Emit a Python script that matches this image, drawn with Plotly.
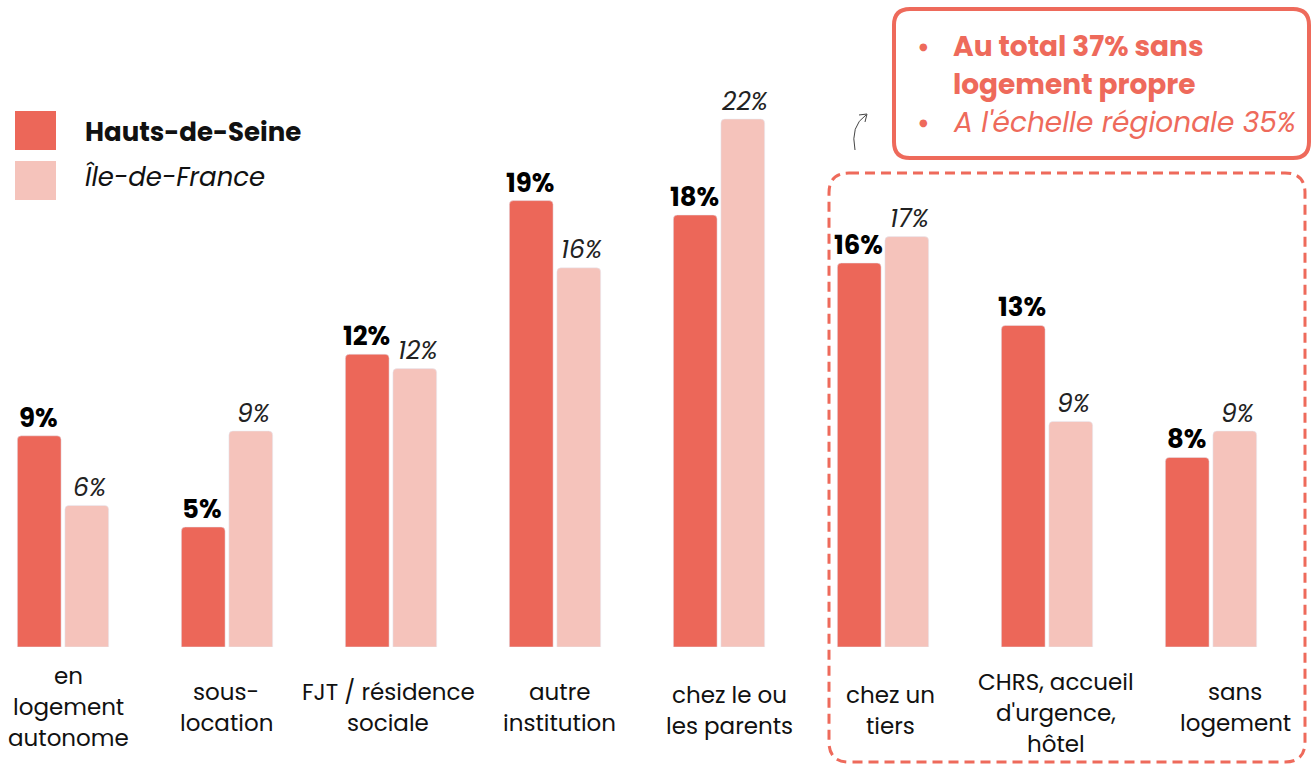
import plotly.graph_objects as go

# --- data ---------------------------------------------------------------
categories = [
    "en logement autonome", "sous-location", "FJT / résidence sociale",
    "autre institution", "chez le ou les parents", "chez un tiers",
    "CHRS, accueil d'urgence, hôtel", "sans logement",
]
tick_labels = [
    ["en", "logement", "autonome"],
    ["sous-", "location"],
    ["FJT / résidence", "sociale"],
    ["autre", "institution"],
    ["chez le ou", "les parents"],
    ["chez un", "tiers"],
    ["CHRS, accueil", "d'urgence,", "hôtel"],
    ["sans", "logement"],
]
hauts_de_seine = [8.8, 5.0, 12.2, 18.6, 18.0, 16.0, 13.4, 7.9]
ile_de_france = [5.9, 9.0, 11.6, 15.8, 22.0, 17.1, 9.4, 9.0]
series_names = ["Hauts-de-Seine", "Île-de-France"]
callout_bold = ["Au total 37% sans", "logement propre"]
callout_italic = "A l'échelle régionale 35%"

# --- style ----------------------------------------------------------------
W, H = 1312, 764
BASE = 647          # pixel row of the baseline
PX_PER_PCT = 24
FONT = "Poppins, Open Sans, sans-serif"
DARK = "#EC6759"
LIGHT = "#F5C3BB"
CORAL = "#EE6A5B"
# labels sit a bit off-centre in the original (px)
label_dx = [5, -1, -3, 4, 10, 7, 9, 24]
label_dy = [0, 0, 0, 0, 3, 3, 6, 0]


def p(x, y):
    # pixel -> paper coords
    return x / W, (BASE - y) / BASE


def rounded_rect(x0, y0, x1, y1, r):
    pts = [
        ("M", [(x0 + r, y0)]), ("L", [(x1 - r, y0)]), ("Q", [(x1, y0), (x1, y0 + r)]),
        ("L", [(x1, y1 - r)]), ("Q", [(x1, y1), (x1 - r, y1)]),
        ("L", [(x0 + r, y1)]), ("Q", [(x0, y1), (x0, y1 - r)]),
        ("L", [(x0, y0 + r)]), ("Q", [(x0, y0), (x0 + r, y0)]),
    ]
    out = ""
    for cmd, coords in pts:
        out += cmd + " ".join("%.5f,%.5f" % p(cx, cy) for cx, cy in coords) + " "
    return out + "Z"


fig = go.Figure()
fig.add_trace(go.Bar(x=categories, y=hauts_de_seine, name=series_names[0], marker_color=DARK))
fig.add_trace(go.Bar(x=categories, y=ile_de_france, name=series_names[1], marker_color=LIGHT))

# value labels above each bar (annotations give finer control of the gap)
for cat, v1, v2 in zip(categories, hauts_de_seine, ile_de_france):
    fig.add_annotation(
        x=cat, y=v1, text="%.0f%%" % v1, showarrow=False,
        xshift=-25, yshift=18, yanchor="middle",
        font=dict(family=FONT, size=26, color="black", weight="bold"),
    )
    fig.add_annotation(
        x=cat, y=v2, text="%.0f%%" % v2, showarrow=False,
        xshift=26, yshift=18, yanchor="middle",
        font=dict(family=FONT, size=25, color="#222", style="italic"),
    )

# category labels below the bars, one annotation per line
for cat, lines, dx, dy in zip(categories, tick_labels, label_dx, label_dy):
    n = len(lines)
    for j, line in enumerate(lines):
        fig.add_annotation(
            x=cat, y=0, xref="x", yref="y", text=line, showarrow=False,
            xshift=dx, yanchor="middle", yshift=-(60 + dy + (j - (n - 1) / 2) * 31),
            font=dict(family=FONT, size=23, color="#111"),
        )

shapes = []
# legend swatches + labels
for i, (name, col) in enumerate(zip(series_names, [DARK, LIGHT])):
    y0 = 111 + i * 50
    x0p, y0p = p(15, y0)
    x1p, y1p = p(56, y0 + 39)
    shapes.append(dict(type="rect", xref="paper", yref="paper", x0=x0p, x1=x1p,
                       y0=y1p, y1=y0p, fillcolor=col, line_width=0))
    lx, ly = p(83, y0 + 21 - i * 5)
    fig.add_annotation(
        x=lx, y=ly, xref="paper", yref="paper", text=name, showarrow=False,
        xanchor="left", yanchor="middle",
        font=dict(family=FONT, size=26, color="#111",
                  weight="bold" if i == 0 else "normal",
                  style="normal" if i == 0 else "italic"),
    )

# callout box and dashed highlight
shapes.append(dict(type="path", xref="paper", yref="paper",
                   path=rounded_rect(894, 9, 1309, 158, 16),
                   line=dict(color=CORAL, width=4)))
shapes.append(dict(type="path", xref="paper", yref="paper",
                   path=rounded_rect(829, 173, 1305, 762, 20),
                   line=dict(color=CORAL, width=3, dash="10px,6px")))

# small curved arrow
shapes.append(dict(type="path", xref="paper", yref="paper",
                   path="M%.5f,%.5f Q%.5f,%.5f %.5f,%.5f" % (p(855, 150) + p(850, 126) + p(866, 115)),
                   line=dict(color="#444", width=1)))
shapes.append(dict(type="path", xref="paper", yref="paper",
                   path="M%.5f,%.5f L%.5f,%.5f L%.5f,%.5f" % (p(859, 115) + p(867, 114) + p(865, 122)),
                   line=dict(color="#444", width=1)))

# callout text
for k, line in enumerate(callout_bold + [callout_italic]):
    ty = 46 + k * 38
    tx, typ = p(951, ty)
    fig.add_annotation(
        x=tx, y=typ, xref="paper", yref="paper", text=line, showarrow=False,
        xanchor="left", yanchor="middle",
        font=dict(family=FONT, size=28, color=CORAL,
                  weight="bold" if k < 2 else "normal",
                  style="italic" if k == 2 else "normal"),
    )
    if k != 1:
        bx, by = p(923, ty)
        fig.add_annotation(
            x=bx, y=by, xref="paper", yref="paper", text="●", showarrow=False,
            xanchor="center", yanchor="middle",
            font=dict(family="DejaVu Sans", size=10, color=CORAL),
        )

fig.update_layout(
    width=W, height=H,
    margin=dict(l=0, r=0, t=0, b=H - BASE),
    barmode="group", bargap=0.42, bargroupgap=0.08, barcornerradius=4,
    plot_bgcolor="white", paper_bgcolor="white",
    showlegend=False, shapes=shapes,
    xaxis=dict(range=[-63 / 164, (W - 63) / 164], showticklabels=False,
               showgrid=False, zeroline=False, showline=False),
    yaxis=dict(range=[0, BASE / PX_PER_PCT], visible=False, showgrid=False),
    font=dict(family=FONT),
)

# drop the default page margin so the figure sits at the window origin
fig.write_html("out.html", config={"displayModeBar": False},
               post_script="document.body.style.margin='0';document.body.style.overflow='hidden';")
